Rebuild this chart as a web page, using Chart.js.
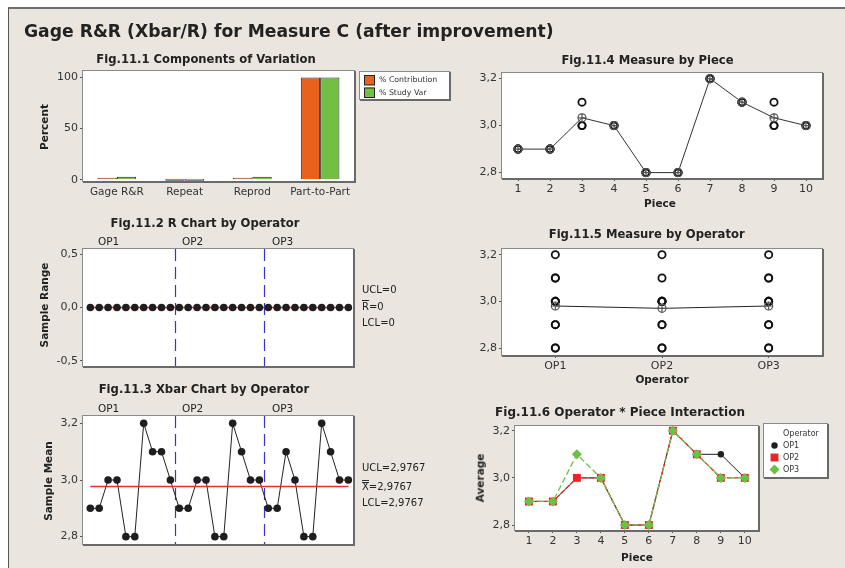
<!DOCTYPE html>
<html>
<head>
<meta charset="utf-8">
<script src="https://cdn.jsdelivr.net/npm/chart.js@4.4.0/dist/chart.umd.min.js"></script>
<style>
html,body{margin:0;padding:0;background:#fff;}
#stage{position:relative;width:845px;height:568px;overflow:hidden;background:#fff;font-family:"DejaVu Sans",sans-serif;color:#222;}
#panel{position:absolute;left:8px;top:7px;right:0;bottom:0;background:#EAE6DF;border-top:2px solid #6e6e6e;border-left:1px solid #555;}
canvas{position:absolute;left:0;top:0;}
.t{position:absolute;white-space:nowrap;line-height:1;}
</style>
</head>
<body>
<div id="stage"><div id="panel"></div></div>
<script>
// ---- data ----
const componentLabels = ['Gage R&R', 'Repeat', 'Reprod', 'Part-to-Part'];
const pctContribution = [0.09, 0, 0.09, 99.91];
const pctStudyVar = [3.0, 0, 3.0, 99.95];

const operators = ['OP1', 'OP2', 'OP3'];
const pieces = [1, 2, 3, 4, 5, 6, 7, 8, 9, 10];
const op1Means = [2.9, 2.9, 3.0, 3.0, 2.8, 2.8, 3.2, 3.1, 3.1, 3.0];
const op2Means = [2.9, 2.9, 3.0, 3.0, 2.8, 2.8, 3.2, 3.1, 3.0, 3.0];
const op3Means = [2.9, 2.9, 3.1, 3.0, 2.8, 2.8, 3.2, 3.1, 3.0, 3.0];

const sampleRanges = [0,0,0,0,0,0,0,0,0,0, 0,0,0,0,0,0,0,0,0,0, 0,0,0,0,0,0,0,0,0,0];
const rBar = 0, rUCL = 0, rLCL = 0;
const xbarCenter = 2.9767, xbarUCL = 2.9767, xbarLCL = 2.9767;
const groupBreaks = [10.5, 20.5];

const pieceMeans = [2.9, 2.9, 3.0333, 3.0, 2.8, 2.8, 3.2, 3.1, 3.0333, 3.0];
const operatorMeans = [2.98, 2.97, 2.98];

const percentTicks = [0, 50, 100];
const rangeTicks = [-0.5, 0, 0.5];
const measureTicks = [2.8, 3.0, 3.2];

// ---- helpers ----
const W = 845, H = 568;
const stage = document.getElementById('stage');
Chart.defaults.font.family = '"DejaVu Sans", sans-serif';
Chart.defaults.color = '#333';
const comma = v => Number(v).toFixed(1).replace('.', ',');
const comma4 = v => v.toFixed(4).replace('.', ',');
const opByPiece = [op1Means, op2Means, op3Means];

function text(html, x, y, o = {}) {
  const d = document.createElement('div');
  d.className = 't';
  d.innerHTML = html;
  d.style.left = x + 'px';
  d.style.top = y + 'px';
  d.style.fontSize = (o.size || 10.5) + 'px';
  if (o.bold) d.style.fontWeight = 'bold';
  const ax = o.left ? '0' : '-50%';
  d.style.transform = 'translate(' + ax + ',-50%)' + (o.rotate ? ' rotate(-90deg)' : '');
  stage.appendChild(d);
}

function boxFrame(ctx, l, t, r, b) {
  ctx.save();
  ctx.setLineDash([]);
  ctx.strokeStyle = '#8a8a8a'; ctx.lineWidth = 1;
  ctx.strokeRect(l - 0.5, t - 0.5, r - l + 1, b - t + 1);
  ctx.strokeStyle = '#6a6a6a'; ctx.lineWidth = 2;
  ctx.beginPath(); ctx.moveTo(r + 1, t); ctx.lineTo(r + 1, b + 1); ctx.lineTo(l, b + 1); ctx.stroke();
  ctx.restore();
}

const plotFrame = {
  id: 'plotFrame',
  beforeDraw(chart) {
    const a = chart.chartArea, ctx = chart.ctx;
    ctx.save(); ctx.fillStyle = '#fff';
    ctx.fillRect(a.left, a.top, a.right - a.left, a.bottom - a.top);
    ctx.restore();
  },
  afterDraw(chart) {
    const a = chart.chartArea;
    boxFrame(chart.ctx, a.left, a.top, a.right, a.bottom);
  }
};

// dashed separators between operator groups on the control charts
const dividers = {
  id: 'dividers',
  beforeDatasetsDraw(chart) {
    const ctx = chart.ctx, a = chart.chartArea, x = chart.scales.x;
    groupBreaks.forEach(v => {
      const px = Math.round(x.getPixelForValue(v)) + 0.5;
      ctx.save();
      ctx.strokeStyle = '#3434d2'; ctx.lineWidth = 1.2; ctx.setLineDash([12, 6]);
      ctx.beginPath(); ctx.moveTo(px, a.top); ctx.lineTo(px, a.bottom); ctx.stroke();
      ctx.restore();
    });
  }
};

function yAxis(min, max, ticks, fmt, w) {
  return {
    type: 'linear', min, max,
    afterBuildTicks: s => { s.ticks = ticks.map(v => ({ value: v })); },
    afterFit: s => { s.width = w; },
    ticks: { callback: v => fmt(v), font: { size: 11 }, color: '#333', padding: 2 },
    grid: { drawOnChartArea: false, drawTicks: true, tickLength: 3, color: '#555' },
    border: { display: false }
  };
}

function xLinear(min, max, ticks, fmt) {
  return {
    type: 'linear', min, max,
    afterBuildTicks: s => { s.ticks = ticks.map(v => ({ value: v })); },
    afterFit: s => { s.height = 24; },
    ticks: { callback: v => fmt(v), font: { size: 11 }, color: '#333', padding: 2 },
    grid: { drawOnChartArea: false, drawTicks: true, tickLength: 3, color: '#555' },
    border: { display: false }
  };
}

function addChart(plot, axW, axH, cfg) {
  const cv = document.createElement('canvas');
  cv.width = W; cv.height = H;
  stage.appendChild(cv);
  cfg.options = cfg.options || {};
  cfg.options.responsive = false;
  cfg.options.animation = false;
  cfg.options.events = [];
  cfg.options.layout = { padding: { left: plot.l - axW, top: plot.t, right: W - plot.r, bottom: H - plot.b - axH } };
  cfg.options.plugins = Object.assign({ legend: { display: false }, tooltip: { enabled: false } }, cfg.options.plugins || {});
  cfg.plugins = [plotFrame].concat(cfg.plugins || []);
  return new Chart(cv, cfg);
}

// ---- Fig.11.1 Components of Variation ----
const componentLegend = {
  id: 'componentLegend',
  afterDraw(chart) {
    const ctx = chart.ctx;
    ctx.save();
    ctx.fillStyle = '#fff'; ctx.fillRect(360, 72, 89, 27);
    boxFrame(ctx, 360, 72, 449, 99);
    chart.data.datasets.forEach((ds, i) => {
      const y = 75 + i * 12.5;
      ctx.fillStyle = ds.backgroundColor; ctx.fillRect(364.5, y, 10, 10);
      ctx.strokeStyle = '#222'; ctx.lineWidth = 1; ctx.strokeRect(364.5, y + 0.5, 10, 9.5);
      ctx.fillStyle = '#333'; ctx.font = '7.8px "DejaVu Sans"'; ctx.textBaseline = 'middle';
      ctx.fillText(ds.label, 379, y + 5.2);
    });
    ctx.restore();
  }
};

addChart({ l: 83, t: 71, r: 354, b: 181 }, 40, 24, {
  type: 'bar',
  data: {
    labels: componentLabels,
    datasets: [
      { label: '% Contribution', data: pctContribution, backgroundColor: '#E8621E', borderColor: '#2a2a2a', borderWidth: 1, minBarLength: 2, categoryPercentage: 0.57, barPercentage: 1 },
      { label: '% Study Var', data: pctStudyVar, backgroundColor: '#72BF44', borderColor: '#2a2a2a', borderWidth: 1, minBarLength: 2, categoryPercentage: 0.57, barPercentage: 1 }
    ]
  },
  options: {
    scales: {
      x: {
        afterFit: s => { s.height = 24; },
        ticks: { font: { size: 10.5 }, color: '#333', padding: 2 },
        grid: { drawOnChartArea: false, drawTicks: true, tickLength: 3, color: 'rgba(0,0,0,0)' },
        border: { display: false }
      },
      y: yAxis(-1.2, 106.2, percentTicks, v => String(v), 40)
    }
  },
  plugins: [componentLegend]
});

// ---- Fig.11.2 / Fig.11.3 control charts by operator ----
function controlChart(plot, values, center, yMin, yMax, ticks, fmt) {
  const pts = values.map((v, i) => ({ x: i + 1, y: v }));
  addChart(plot, 40, 0, {
    type: 'line',
    data: {
      datasets: [
        { data: pts, showLine: false, pointRadius: 3.8, pointBackgroundColor: '#1e1e1e', pointBorderColor: '#1e1e1e', pointBorderWidth: 0, order: 0 },
        { data: [{ x: 1, y: center }, { x: values.length, y: center }], borderColor: '#E03030', borderWidth: 1.5, pointRadius: 0, order: 1 },
        { data: pts, borderColor: '#222', borderWidth: 1, pointRadius: 0, order: 2 }
      ]
    },
    options: {
      scales: {
        x: { type: 'linear', display: false, min: 0.18, max: 30.52 },
        y: yAxis(yMin, yMax, ticks, fmt, 40)
      }
    },
    plugins: [dividers]
  });
}

controlChart({ l: 83, t: 249, r: 353, b: 366 }, sampleRanges, rBar, -0.548, 0.548, rangeTicks, comma);

const sampleMeans = op1Means.concat(op2Means, op3Means);
controlChart({ l: 83, t: 416, r: 353, b: 544 }, sampleMeans, xbarCenter, 2.774, 3.226, measureTicks, comma);

// ---- Fig.11.4 Measure by Piece ----
const meanStyle = { pointRadius: 4, pointBorderColor: '#555', pointBorderWidth: 1.2, pointBackgroundColor: 'rgba(0,0,0,0)' };
const openCircle = { showLine: false, pointStyle: 'circle', pointRadius: 3.6, pointBorderWidth: 1.8, pointBorderColor: '#111', pointBackgroundColor: 'rgba(0,0,0,0)' };

const pieceIndividuals = [];
pieces.forEach((p, i) => opByPiece.forEach(arr => pieceIndividuals.push({ x: p, y: arr[i] })));
const pieceMeanPts = pieces.map((p, i) => ({ x: p, y: pieceMeans[i] }));

addChart({ l: 502, t: 73, r: 822, b: 178 }, 40, 24, {
  type: 'line',
  data: {
    datasets: [
      Object.assign({ data: pieceIndividuals, order: 2 }, openCircle),
      Object.assign({ data: pieceMeanPts, borderColor: '#333', borderWidth: 1, pointStyle: 'circle', order: 1 }, meanStyle),
      Object.assign({ data: pieceMeanPts, showLine: false, pointStyle: 'cross', order: 0 }, meanStyle)
    ]
  },
  options: {
    scales: {
      x: xLinear(0.5, 10.5, pieces, v => String(v)),
      y: yAxis(2.777, 3.224, measureTicks, comma, 40)
    }
  }
});

// ---- Fig.11.5 Measure by Operator ----
const operatorIndividuals = [];
opByPiece.forEach((arr, k) => arr.forEach(v => operatorIndividuals.push({ x: k + 1, y: v })));
const operatorMeanPts = operatorMeans.map((v, k) => ({ x: k + 1, y: v }));

addChart({ l: 502, t: 249, r: 822, b: 355 }, 40, 24, {
  type: 'line',
  data: {
    datasets: [
      Object.assign({ data: operatorIndividuals, order: 2 }, openCircle),
      Object.assign({ data: operatorMeanPts, borderColor: '#222', borderWidth: 1, pointStyle: 'circle', order: 1 }, meanStyle),
      Object.assign({ data: operatorMeanPts, showLine: false, pointStyle: 'cross', order: 0 }, meanStyle)
    ]
  },
  options: {
    scales: {
      x: xLinear(0.5, 3.5, [1, 2, 3], v => operators[v - 1]),
      y: yAxis(2.77, 3.2244, measureTicks, comma, 40)
    }
  }
});

// ---- Fig.11.6 Operator * Piece Interaction ----
const interactionStyles = [
  { color: '#1e1e1e', dash: [], shape: 'circle', r: 3.2 },
  { color: '#EE2424', dash: [5, 2], shape: 'rect', r: 5.6 },
  { color: '#6CC04A', dash: [6, 3], shape: 'rectRot', r: 5 }
];

function marker(ctx, shape, x, y, r) {
  ctx.beginPath();
  if (shape === 'circle') ctx.arc(x, y, r, 0, Math.PI * 2);
  else if (shape === 'rect') { const s = r * Math.SQRT1_2; ctx.rect(x - s, y - s, 2 * s, 2 * s); }
  else { ctx.moveTo(x, y - r); ctx.lineTo(x + r, y); ctx.lineTo(x, y + r); ctx.lineTo(x - r, y); ctx.closePath(); }
  ctx.fill();
}

const interactionLegend = {
  id: 'interactionLegend',
  afterDraw(chart) {
    const ctx = chart.ctx;
    ctx.save();
    ctx.fillStyle = '#fff'; ctx.fillRect(764, 424, 63, 53);
    boxFrame(ctx, 764, 424, 827, 477);
    ctx.font = '8px "DejaVu Sans"'; ctx.textBaseline = 'middle'; ctx.fillStyle = '#333';
    ctx.fillText('Operator', 783, 433.5);
    chart.data.datasets.forEach((ds, i) => {
      const st = interactionStyles[i], y = 445.5 + i * 12;
      ctx.fillStyle = st.color;
      marker(ctx, st.shape, 774.5, y, st.r);
      ctx.fillStyle = '#333';
      ctx.fillText(ds.label, 783, y);
    });
    ctx.restore();
  }
};

addChart({ l: 515, t: 426, r: 758, b: 530 }, 40, 24, {
  type: 'line',
  data: {
    datasets: opByPiece.map((arr, k) => ({
      label: operators[k],
      data: pieces.map((p, i) => ({ x: p, y: arr[i] })),
      borderColor: interactionStyles[k].color,
      borderWidth: k === 0 ? 1 : 1.3,
      borderDash: interactionStyles[k].dash,
      pointStyle: interactionStyles[k].shape,
      pointRadius: interactionStyles[k].r,
      pointBackgroundColor: interactionStyles[k].color,
      pointBorderColor: interactionStyles[k].color,
      pointBorderWidth: 0,
      order: 3 - k
    }))
  },
  options: {
    scales: {
      x: xLinear(0.42, 10.55, pieces, v => String(v)),
      y: yAxis(2.779, 3.22, measureTicks, comma, 40)
    }
  },
  plugins: [interactionLegend]
});

// ---- titles and annotations ----
text('Gage R&amp;R (Xbar/R) for Measure C (after improvement)', 24, 31.5, { left: true, bold: true, size: 17.2 });

text('Fig.11.1 Components of Variation', 206, 60, { bold: true, size: 11.6 });
text('Percent', 44, 127, { bold: true, rotate: true });

text('Fig.11.2 R Chart by Operator', 205, 224, { bold: true, size: 11.6 });
text('Sample Range', 43.5, 305, { bold: true, rotate: true });
[98, 182, 272].forEach((x, k) => text(operators[k], x, 241, { left: true }));
text('UCL=' + rUCL, 362, 290, { left: true, size: 10 });
text('<span style="text-decoration:overline">R</span>=' + rBar, 362, 307, { left: true, size: 10 });
text('LCL=' + rLCL, 362, 322.7, { left: true, size: 10 });

text('Fig.11.3 Xbar Chart by Operator', 204, 390, { bold: true, size: 11.6 });
text('Sample Mean', 48, 481, { bold: true, rotate: true });
[98, 182, 272].forEach((x, k) => text(operators[k], x, 408, { left: true }));
text('UCL=' + comma4(xbarUCL), 362, 468, { left: true, size: 10 });
text('<span style="display:inline-block;border-top:3px double #333;line-height:0.85">X</span>=' + comma4(xbarCenter), 362, 485.5, { left: true, size: 10 });
text('LCL=' + comma4(xbarLCL), 362, 503, { left: true, size: 10 });

text('Fig.11.4 Measure by Piece', 647.5, 60.7, { bold: true, size: 11.6 });
text('Piece', 660, 203, { bold: true });

text('Fig.11.5 Measure by Operator', 646.7, 235, { bold: true, size: 11.6 });
text('Operator', 662, 379, { bold: true });

text('Fig.11.6 Operator * Piece Interaction', 620, 412, { bold: true, size: 12 });
text('Average', 480, 478, { bold: true, rotate: true });
text('Piece', 637, 557, { bold: true });
</script>
</body>
</html>
